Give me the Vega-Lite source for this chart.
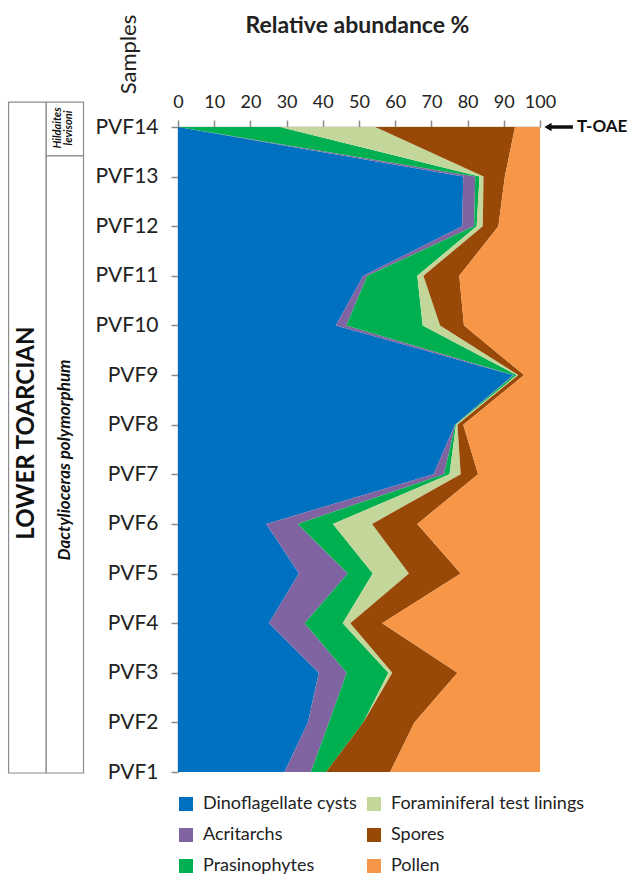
{
  "$schema": "https://vega.github.io/schema/vega-lite/v6.json",
  "autosize": "none",
  "width": 362,
  "height": 645,
  "padding": {"left": 178, "top": 127, "right": 88, "bottom": 105},
  "config": {
    "font": "Lato",
    "view": {"stroke": null},
    "axis": {"grid": false}
  },
  "resolve": {"axis": {"x": "independent", "y": "independent"}},
  "layer": [
    {
      "data": {
        "values": [
          {"s": 14, "g": "Dinoflagellate cysts", "k": 1, "v": 0},
          {"s": 14, "g": "Acritarchs", "k": 2, "v": 0},
          {"s": 14, "g": "Prasinophytes", "k": 3, "v": 28.2},
          {"s": 14, "g": "Foraminiferal test linings", "k": 4, "v": 26.3},
          {"s": 14, "g": "Spores", "k": 5, "v": 38.6},
          {"s": 14, "g": "Pollen", "k": 6, "v": 6.9},
          {"s": 13, "g": "Dinoflagellate cysts", "k": 1, "v": 78.8},
          {"s": 13, "g": "Acritarchs", "k": 2, "v": 3.3},
          {"s": 13, "g": "Prasinophytes", "k": 3, "v": 1.2},
          {"s": 13, "g": "Foraminiferal test linings", "k": 4, "v": 1.1},
          {"s": 13, "g": "Spores", "k": 5, "v": 5.9},
          {"s": 13, "g": "Pollen", "k": 6, "v": 9.7},
          {"s": 12, "g": "Dinoflagellate cysts", "k": 1, "v": 78.5},
          {"s": 12, "g": "Acritarchs", "k": 2, "v": 3.3},
          {"s": 12, "g": "Prasinophytes", "k": 3, "v": 0.7},
          {"s": 12, "g": "Foraminiferal test linings", "k": 4, "v": 1.7},
          {"s": 12, "g": "Spores", "k": 5, "v": 4.3},
          {"s": 12, "g": "Pollen", "k": 6, "v": 11.5},
          {"s": 11, "g": "Dinoflagellate cysts", "k": 1, "v": 51.2},
          {"s": 11, "g": "Acritarchs", "k": 2, "v": 1.1},
          {"s": 11, "g": "Prasinophytes", "k": 3, "v": 13.8},
          {"s": 11, "g": "Foraminiferal test linings", "k": 4, "v": 1.7},
          {"s": 11, "g": "Spores", "k": 5, "v": 9.9},
          {"s": 11, "g": "Pollen", "k": 6, "v": 22.3},
          {"s": 10, "g": "Dinoflagellate cysts", "k": 1, "v": 43.6},
          {"s": 10, "g": "Acritarchs", "k": 2, "v": 2.9},
          {"s": 10, "g": "Prasinophytes", "k": 3, "v": 21.1},
          {"s": 10, "g": "Foraminiferal test linings", "k": 4, "v": 4.8},
          {"s": 10, "g": "Spores", "k": 5, "v": 6.6},
          {"s": 10, "g": "Pollen", "k": 6, "v": 21.0},
          {"s": 9, "g": "Dinoflagellate cysts", "k": 1, "v": 92.6},
          {"s": 9, "g": "Acritarchs", "k": 2, "v": 0.2},
          {"s": 9, "g": "Prasinophytes", "k": 3, "v": 0.8},
          {"s": 9, "g": "Foraminiferal test linings", "k": 4, "v": 0.4},
          {"s": 9, "g": "Spores", "k": 5, "v": 1.6},
          {"s": 9, "g": "Pollen", "k": 6, "v": 4.4},
          {"s": 8, "g": "Dinoflagellate cysts", "k": 1, "v": 76.5},
          {"s": 8, "g": "Acritarchs", "k": 2, "v": 0.1},
          {"s": 8, "g": "Prasinophytes", "k": 3, "v": 0.2},
          {"s": 8, "g": "Foraminiferal test linings", "k": 4, "v": 0.4},
          {"s": 8, "g": "Spores", "k": 5, "v": 1.6},
          {"s": 8, "g": "Pollen", "k": 6, "v": 21.2},
          {"s": 7, "g": "Dinoflagellate cysts", "k": 1, "v": 70.6},
          {"s": 7, "g": "Acritarchs", "k": 2, "v": 2.9},
          {"s": 7, "g": "Prasinophytes", "k": 3, "v": 1.5},
          {"s": 7, "g": "Foraminiferal test linings", "k": 4, "v": 3.1},
          {"s": 7, "g": "Spores", "k": 5, "v": 4.8},
          {"s": 7, "g": "Pollen", "k": 6, "v": 17.1},
          {"s": 6, "g": "Dinoflagellate cysts", "k": 1, "v": 24.4},
          {"s": 6, "g": "Acritarchs", "k": 2, "v": 8.7},
          {"s": 6, "g": "Prasinophytes", "k": 3, "v": 9.7},
          {"s": 6, "g": "Foraminiferal test linings", "k": 4, "v": 10.8},
          {"s": 6, "g": "Spores", "k": 5, "v": 12.5},
          {"s": 6, "g": "Pollen", "k": 6, "v": 33.9},
          {"s": 5, "g": "Dinoflagellate cysts", "k": 1, "v": 33.4},
          {"s": 5, "g": "Acritarchs", "k": 2, "v": 13.5},
          {"s": 5, "g": "Prasinophytes", "k": 3, "v": 6.9},
          {"s": 5, "g": "Foraminiferal test linings", "k": 4, "v": 10.0},
          {"s": 5, "g": "Spores", "k": 5, "v": 14.3},
          {"s": 5, "g": "Pollen", "k": 6, "v": 21.9},
          {"s": 4, "g": "Dinoflagellate cysts", "k": 1, "v": 25.1},
          {"s": 4, "g": "Acritarchs", "k": 2, "v": 9.9},
          {"s": 4, "g": "Prasinophytes", "k": 3, "v": 10.5},
          {"s": 4, "g": "Foraminiferal test linings", "k": 4, "v": 2.1},
          {"s": 4, "g": "Spores", "k": 5, "v": 8.8},
          {"s": 4, "g": "Pollen", "k": 6, "v": 43.6},
          {"s": 3, "g": "Dinoflagellate cysts", "k": 1, "v": 38.9},
          {"s": 3, "g": "Acritarchs", "k": 2, "v": 7.7},
          {"s": 3, "g": "Prasinophytes", "k": 3, "v": 11.5},
          {"s": 3, "g": "Foraminiferal test linings", "k": 4, "v": 1.1},
          {"s": 3, "g": "Spores", "k": 5, "v": 18.0},
          {"s": 3, "g": "Pollen", "k": 6, "v": 22.8},
          {"s": 2, "g": "Dinoflagellate cysts", "k": 1, "v": 35.9},
          {"s": 2, "g": "Acritarchs", "k": 2, "v": 5.8},
          {"s": 2, "g": "Prasinophytes", "k": 3, "v": 9.5},
          {"s": 2, "g": "Foraminiferal test linings", "k": 4, "v": 0},
          {"s": 2, "g": "Spores", "k": 5, "v": 14.1},
          {"s": 2, "g": "Pollen", "k": 6, "v": 34.7},
          {"s": 1, "g": "Dinoflagellate cysts", "k": 1, "v": 29.4},
          {"s": 1, "g": "Acritarchs", "k": 2, "v": 7.3},
          {"s": 1, "g": "Prasinophytes", "k": 3, "v": 4.2},
          {"s": 1, "g": "Foraminiferal test linings", "k": 4, "v": 0},
          {"s": 1, "g": "Spores", "k": 5, "v": 17.7},
          {"s": 1, "g": "Pollen", "k": 6, "v": 41.4}
        ]
      },
      "mark": {"type": "area", "interpolate": "linear", "orient": "horizontal"},
      "encoding": {
        "y": {
          "field": "s",
          "type": "quantitative",
          "scale": {"domain": [1, 14], "nice": false, "zero": false},
          "axis": {
            "orient": "left",
            "values": [1, 2, 3, 4, 5, 6, 7, 8, 9, 10, 11, 12, 13, 14],
            "labelExpr": "'PVF' + datum.value",
            "labelOverlap": false,
            "labelFontSize": 21,
            "labelColor": "#222222",
            "labelPadding": 13,
            "labelFlush": false,
            "tickSize": 7,
            "tickWidth": 1.5,
            "tickColor": "#8c8c8c",
            "domainColor": "#8c8c8c",
            "domainWidth": 1.5,
            "title": "Samples",
            "titleFontSize": 22,
            "titleFontWeight": "normal",
            "titleColor": "#222222",
            "titleAngle": 270,
            "titleX": -50,
            "titleY": -73,
            "titleAlign": "center",
            "titleBaseline": "middle"
          }
        },
        "x": {
          "field": "v",
          "type": "quantitative",
          "stack": "zero",
          "scale": {"domain": [0, 100], "nice": false},
          "axis": {
            "orient": "top",
            "values": [0, 10, 20, 30, 40, 50, 60, 70, 80, 90, 100],
            "labelOverlap": false,
            "labelFontSize": 18,
            "labelColor": "#222222",
            "labelPadding": 9,
            "labelFlush": false,
            "tickSize": 7,
            "tickWidth": 1.5,
            "tickColor": "#8c8c8c",
            "domainColor": "#8c8c8c",
            "domainWidth": 1.5,
            "title": "Relative abundance %",
            "titleFontSize": 23,
            "titleFontWeight": "bold",
            "titleColor": "#222222",
            "titleX": 179,
            "titleY": -95,
            "titleAlign": "center",
            "titleBaseline": "alphabetic"
          }
        },
        "order": {"field": "k", "type": "quantitative"},
        "color": {
          "field": "g",
          "type": "nominal",
          "scale": {
            "domain": ["Dinoflagellate cysts", "Acritarchs", "Prasinophytes", "Foraminiferal test linings", "Spores", "Pollen"],
            "range": ["#0070C0", "#8064A2", "#00B050", "#C4D79B", "#984807", "#F79646"]
          },
          "legend": {
            "orient": "none",
            "legendX": -1,
            "legendY": 668,
            "columns": 2,
            "title": null,
            "padding": 0,
            "symbolType": "square",
            "symbolSize": 196,
            "symbolStrokeWidth": 0,
            "symbolOpacity": 1,
            "labelFontSize": 18,
            "labelColor": "#222222",
            "labelOffset": 8,
            "labelLimit": 400,
            "rowPadding": 13,
            "columnPadding": 8
          }
        }
      }
    },
    {
      "data": {
        "values": [
          {"zone": "LOWER TOARCIAN", "x1": -46.8, "x2": -36.4, "y1": 0.98, "y2": 14.5},
          {"zone": "Hildaites levisoni", "x1": -36.4, "x2": -26.1, "y1": 13.42, "y2": 14.5},
          {"zone": "Dactylioceras polymorphum", "x1": -36.4, "x2": -26.1, "y1": 0.98, "y2": 13.42}
        ]
      },
      "mark": {"type": "rect", "fill": "white", "stroke": "#8c8c8c", "strokeWidth": 1.2},
      "encoding": {
        "x": {"field": "x1", "type": "quantitative", "axis": null},
        "x2": {"field": "x2"},
        "y": {"field": "y1", "type": "quantitative", "axis": null},
        "y2": {"field": "y2"}
      }
    },
    {
      "data": {"values": [{"label": "LOWER TOARCIAN"}]},
      "mark": {"type": "text", "angle": 270, "fontSize": 24, "fontWeight": "bold", "color": "#111111", "align": "center", "baseline": "middle"},
      "encoding": {
        "x": {"datum": -41.6, "type": "quantitative", "axis": null},
        "y": {"datum": 7.83, "type": "quantitative", "axis": null},
        "text": {"field": "label"}
      }
    },
    {
      "data": {"values": [{"label": "Dactylioceras polymorphum"}]},
      "mark": {"type": "text", "angle": 270, "fontSize": 17, "fontWeight": "bold", "fontStyle": "italic", "color": "#111111", "align": "center", "baseline": "middle"},
      "encoding": {
        "x": {"datum": -31.3, "type": "quantitative", "axis": null},
        "y": {"datum": 7.29, "type": "quantitative", "axis": null},
        "text": {"field": "label"}
      }
    },
    {
      "data": {"values": [{"label": "Hildaites\nlevisoni"}]},
      "mark": {"type": "text", "angle": 270, "fontSize": 11, "fontWeight": "bold", "fontStyle": "italic", "color": "#111111", "align": "center", "baseline": "middle", "lineBreak": "\n", "lineHeight": 11},
      "encoding": {
        "x": {"datum": -33.2, "type": "quantitative", "axis": null},
        "y": {"datum": 13.98, "type": "quantitative", "axis": null},
        "text": {"field": "label"}
      }
    },
    {
      "data": {"values": [{"event": "T-OAE"}]},
      "mark": {"type": "rule", "strokeWidth": 3.5, "color": "#111111"},
      "encoding": {
        "x": {"datum": 102, "type": "quantitative", "axis": null},
        "x2": {"datum": 109.1},
        "y": {"datum": 14, "type": "quantitative", "axis": null}
      }
    },
    {
      "data": {"values": [{"event": "T-OAE"}]},
      "mark": {"type": "point", "shape": "triangle-left", "filled": true, "size": 70, "color": "#111111", "opacity": 1},
      "encoding": {
        "x": {"datum": 102.2, "type": "quantitative", "axis": null},
        "y": {"datum": 14, "type": "quantitative", "axis": null}
      }
    },
    {
      "data": {"values": [{"event": "T-OAE"}]},
      "mark": {"type": "text", "fontSize": 17, "fontWeight": "bold", "color": "#111111", "align": "left", "baseline": "middle"},
      "encoding": {
        "x": {"datum": 110.2, "type": "quantitative", "axis": null},
        "y": {"datum": 14, "type": "quantitative", "axis": null},
        "text": {"field": "event"}
      }
    }
  ]
}
